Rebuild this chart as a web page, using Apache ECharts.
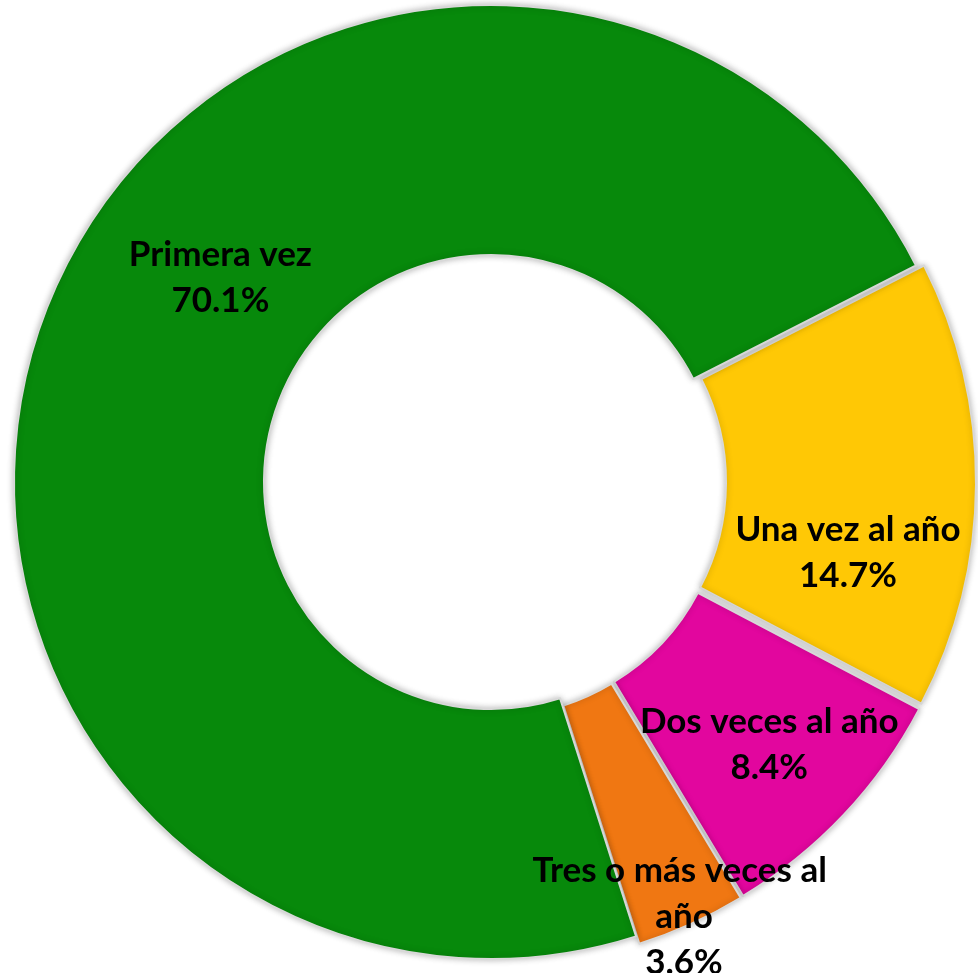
<!DOCTYPE html>
<html>
<head>
<meta charset="utf-8">
<script src="https://cdn.jsdelivr.net/npm/echarts@6/dist/echarts.min.js"></script>
<style>
  html, body { margin: 0; padding: 0; background: #fff; }
  #main { width: 978px; height: 973px; }
</style>
</head>
<body>
<div id="main"></div>
<script>
// datos (porcentaje de visitas)
var categories = ['Una vez al año', 'Dos veces al año', 'Tres o más veces al año', 'Primera vez'];
var values = [14.7, 8.4, 3.6, 70.1];
var colors = ['#FFC805', '#E2069E', '#F07712', '#07890B'];
var exploded = [true, true, true, false];
// ajuste de etiquetas (como en la hoja original)
var labelShift = [[-6, 69], [14, 14], [43, 104], [57, -68]];

var chart = echarts.init(document.getElementById('main'));

var option = {
  backgroundColor: '#fff',
  series: [{
    type: 'pie',
    center: [491, 482],
    radius: [227, 477],
    startAngle: 27,
    selectedMode: 'multiple',
    selectedOffset: 8,
    avoidLabelOverlap: false,
    animation: false,
    itemStyle: {
      borderColor: '#d8d8d8',
      borderWidth: 2,
      shadowBlur: 6,
      shadowColor: 'rgba(0,0,0,0.25)'
    },
    label: {
      show: true,
      position: 'inside',
      color: '#000',
      fontFamily: 'Lato',
      fontWeight: 'bold',
      fontSize: 35,
      lineHeight: 46,
      width: 340,
      overflow: 'break',
      align: 'center',
      formatter: function (p) { return p.name + '\n' + p.value.toFixed(1) + '%'; }
    },
    labelLine: { show: false },
    labelLayout: function (params) {
      var s = labelShift[params.dataIndex];
      return { dx: s[0], dy: s[1] };
    },
    emphasis: { disabled: true },
    data: categories.map(function (name, i) {
      return {
        name: name,
        value: values[i],
        selected: exploded[i],
        itemStyle: { color: colors[i] }
      };
    })
  }]
};

chart.setOption(option);
</script>
</body>
</html>
